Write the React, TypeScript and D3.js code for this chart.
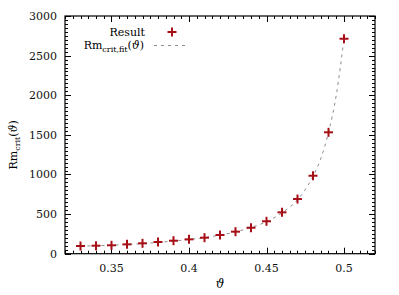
import React from "react";
import * as d3 from "d3";

// measured points: theta vs critical magnetic Reynolds number
const theta = [0.33, 0.34, 0.35, 0.36, 0.37, 0.38, 0.39, 0.4, 0.41, 0.42, 0.43, 0.44, 0.45, 0.46, 0.47, 0.48, 0.49, 0.5];
const rmCrit = [97, 101, 106, 118, 131, 148, 164, 181, 202, 236, 278, 328, 409, 522, 690, 984, 1532, 2713];

// fit curve
const fitTheta = [0.33, 0.35, 0.37, 0.39, 0.41, 0.43, 0.44, 0.45, 0.46, 0.47, 0.475, 0.48, 0.485, 0.49, 0.495, 0.5];
const fitValues = [95, 108, 128, 160, 203, 275, 330, 405, 515, 680, 810, 975, 1200, 1530, 2000, 2713];

const xMajor = [0.35, 0.4, 0.45, 0.5];
const xTickLabels = ["0.35", "0.4", "0.45", "0.5"];
const yMajor = [0, 500, 1000, 1500, 2000, 2500, 3000];
const yTickLabels = ["0", "500", "1000", "1500", "2000", "2500", "3000"];

const W = 399;
const H = 295;
const margin = { left: 65, top: 16, right: 24, bottom: 41.3 };
const font = "'DejaVu Serif', serif";
const red = "#a50f15";

export default function App() {
  const x = d3.scaleLinear().domain([0.32, 0.52]).range([margin.left, W - margin.right]);
  const y = d3.scaleLinear().domain([0, 3000]).range([H - margin.bottom, margin.top]);
  const [x0, x1] = x.range();
  const [y0, y1] = y.range();

  const xMinor = d3.range(0, 41).map((i) => 0.32 + i * 0.005);
  const yMinor = d3.range(0, 61).map((i) => i * 50);

  const fitLine = d3
    .line<number>()
    .x((_, i) => x(fitTheta[i]))
    .y((d) => y(d))
    .curve(d3.curveMonotoneX);

  const plus = (cx: number, cy: number, k: string) => (
    <g key={k} stroke={red} strokeWidth={2}>
      <line x1={cx - 4.5} x2={cx + 4.5} y1={cy} y2={cy} />
      <line x1={cx} x2={cx} y1={cy - 4.5} y2={cy + 4.5} />
    </g>
  );

  return (
    <svg width={W} height={H} style={{ position: "absolute", left: 0, top: 0 }} fontFamily={font}>
      <rect width={W} height={H} fill="white" />

      {/* minor + major ticks, all pointing inward on the four sides */}
      <g stroke="black" strokeWidth={1}>
        {xMinor.map((v, i) => {
          const big = xMajor.some((m) => Math.abs(m - v) < 1e-9);
          const len = big ? 6 : 3;
          const px = Math.round(x(v)) + 0.5;
          return (
            <g key={"xm" + i}>
              <line x1={px} x2={px} y1={y0} y2={y0 - len} />
              <line x1={px} x2={px} y1={y1} y2={y1 + len} />
            </g>
          );
        })}
        {yMinor.map((v, i) => {
          const big = v % 500 === 0;
          const len = big ? 6 : 3;
          const py = Math.round(y(v)) + 0.5;
          return (
            <g key={"ym" + i}>
              <line x1={x0} x2={x0 + len} y1={py} y2={py} />
              <line x1={x1} x2={x1 - len} y1={py} y2={py} />
            </g>
          );
        })}
      </g>

      <rect x={x0} y={y1} width={x1 - x0} height={y0 - y1} fill="none" stroke="black" strokeWidth={1.2} />

      {/* tick labels */}
      <g fontSize={11} fill="#111">
        {xMajor.map((v, i) => (
          <text key={"xl" + i} x={x(v)} y={y0 + 18} textAnchor="middle">
            {xTickLabels[i]}
          </text>
        ))}
        {yMajor.map((v, i) => (
          <text key={"yl" + i} x={x0 - 8} y={y(v) + 4} textAnchor="end">
            {yTickLabels[i]}
          </text>
        ))}
      </g>

      {/* axis titles */}
      <text x={(x0 + x1) / 2} y={H - 7} fontSize={12} fontStyle="italic" textAnchor="middle">
        ϑ
      </text>
      <text transform={`translate(17, ${(y0 + y1) / 2 + 10}) rotate(-90)`} fontSize={11} textAnchor="middle">
        Rm
        <tspan fontSize={8} dy={2.5}>crit</tspan>
        <tspan dy={-2.5}>(</tspan>
        <tspan fontStyle="italic">ϑ</tspan>)
      </text>

      {/* fit */}
      <path d={fitLine(fitValues) ?? ""} fill="none" stroke="#8c8c8c" strokeWidth={1} strokeDasharray="3,4" />

      {/* data */}
      {theta.map((t, i) => plus(x(t), y(rmCrit[i]), "p" + i))}

      {/* legend */}
      <g fontSize={11}>
        <text x={145} y={36} textAnchor="end">Result</text>
        {plus(172, 32, "legend")}
        <text x={144} y={49} textAnchor="end">
          Rm
          <tspan fontSize={8} dy={2.5}>crit,fit</tspan>
          <tspan dy={-2.5}>(</tspan>
          <tspan fontStyle="italic">ϑ</tspan>)
        </text>
        <line x1={154} x2={186} y1={45.5} y2={45.5} stroke="#8c8c8c" strokeWidth={1} strokeDasharray="3,4" />
      </g>
    </svg>
  );
}
